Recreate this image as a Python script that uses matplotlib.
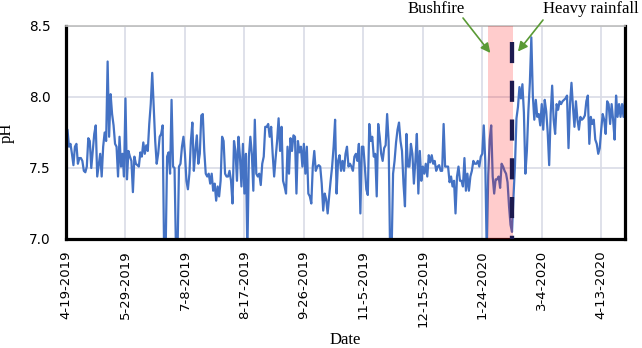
import matplotlib
matplotlib.use('Agg')
import matplotlib.pyplot as plt
import pandas as pd

# daily pH readings (values below 7.0 run off the axis)
ph_apr_jun = [7.54, 7.77, 7.65, 7.67, 7.60, 7.52, 7.65, 7.67, 7.53, 7.57,
              7.57, 7.55, 7.48, 7.47, 7.51, 7.71, 7.69, 7.50, 7.62, 7.74,
              7.80, 7.44, 7.52, 7.60, 7.44, 7.65, 7.75, 7.69, 8.25, 7.72,
              8.02, 7.88, 7.80, 7.67, 7.65, 7.44, 7.72, 7.51, 7.60, 7.44,
              7.99, 7.42, 7.62, 7.58, 7.55, 7.33, 7.58, 7.53, 7.52, 7.51,
              7.61, 7.58, 7.68, 7.60, 7.66, 7.62, 7.81, 7.95, 8.17, 7.93,
              7.69, 7.53]
ph_jun_aug = [7.60, 7.72, 7.74, 7.80, 6.90, 6.90, 7.58, 7.61, 7.46, 7.98,
              7.51, 7.50, 6.90, 6.90, 7.51, 7.53, 7.65, 7.72, 7.60, 7.41,
              7.35, 7.46, 7.69, 7.82, 7.48, 7.62, 7.73, 7.53, 7.60, 7.87,
              7.88, 7.62, 7.46, 7.44, 7.46, 7.39, 7.46, 7.34, 7.39, 7.27,
              7.37, 7.30, 7.41, 7.72, 7.69, 7.46, 7.44, 7.44, 7.48, 7.41,
              7.25, 7.69, 7.62, 7.41, 7.72, 7.58, 7.37, 7.67, 7.32, 7.60,
              6.90, 7.58, 7.72]
ph_aug_oct = [7.60, 7.34, 7.84, 7.46, 7.44, 7.46, 7.38, 7.53, 7.58, 7.79,
              7.79, 7.81, 7.72, 7.79, 7.60, 7.44, 7.57, 7.69, 7.85, 7.62,
              7.79, 7.41, 7.37, 7.32, 7.65, 7.46, 7.71, 7.62, 7.73, 7.72,
              7.32, 7.69, 7.61, 7.65, 7.51, 7.67, 7.46, 7.65, 7.32, 7.30,
              7.25, 7.51, 7.62, 7.48, 7.51, 7.52, 7.51, 7.39, 7.20, 7.32,
              7.28, 7.18, 7.30, 7.41, 7.51, 7.65, 7.84, 7.32, 7.55, 7.59,
              7.48, 7.55]
ph_oct_dec = [7.48, 7.60, 7.65, 7.51, 7.53, 7.51, 7.48, 7.58, 7.60, 7.55,
              7.67, 7.18, 7.65, 7.65, 7.51, 7.35, 7.31, 7.81, 7.69, 7.72,
              7.58, 7.60, 7.30, 7.81, 7.72, 7.60, 7.55, 7.64, 7.66, 7.88,
              7.69, 6.90, 6.90, 7.46, 7.55, 7.68, 7.77, 7.82, 7.69, 7.62,
              7.39, 7.23, 7.74, 7.51, 7.51, 7.67, 7.60, 7.39, 7.55, 7.74,
              7.32, 7.62, 7.41, 7.51, 7.46, 7.53, 7.44, 7.59, 7.54, 7.59,
              7.53, 7.55]
ph_dec_jan = [7.48, 7.51, 7.52, 7.48, 7.48, 7.81, 7.51, 7.51, 7.51, 7.40,
              7.44, 7.37, 7.41, 7.18, 7.44, 7.51, 7.41, 7.41, 7.37, 7.57,
              7.34, 7.46, 7.34, 7.44, 7.48, 7.55, 7.53]
ph_jan_mar = [7.53, 7.55, 7.51, 7.58, 7.60, 7.80, 7.55, 6.90, 7.45, 7.70,
              7.80, 7.44, 7.32, 7.42, 7.42, 7.44, 7.36, 7.53, 7.51, 7.48,
              7.46, 7.40, 7.23, 7.10, 7.05, 7.30, 7.52, 7.85, 7.93, 8.07,
              7.99, 8.09, 7.89, 7.46, 7.62, 7.90, 8.10, 8.42, 8.01, 7.84,
              7.98, 7.86, 7.88, 7.80]
ph_mar_apr = [7.95, 7.77, 7.98, 7.90, 7.75, 7.52, 7.88, 8.08, 7.84, 7.74,
              7.95, 7.91, 7.97, 7.95, 7.97, 7.98, 7.99, 8.01, 7.64, 7.95,
              8.10, 7.93, 7.79, 7.97, 7.84, 7.77, 7.86, 7.84, 7.85, 7.87,
              7.97, 8.01, 7.67, 7.86, 7.81, 7.84, 7.70, 7.67, 7.60, 7.64,
              7.77, 7.88, 7.84, 7.74, 7.97, 7.95, 7.81, 7.95, 7.84, 7.70,
              8.01, 7.86, 7.95, 7.86, 7.95, 7.86, 7.99]

start_date = '2019-04-19'
tick_labels = ['4-19-2019', '5-29-2019', '7-8-2019', '8-17-2019', '9-26-2019',
               '11-5-2019', '12-15-2019', '1-24-2020', '3-4-2020', '4-13-2020']
y_ticks = [7.0, 7.5, 8.0, 8.5]

bushfire_start = '2020-01-28'
bushfire_end = '2020-02-14'
rainfall_date = '2020-02-13'


def main():
    ph = ph_apr_jun + ph_jun_aug + ph_aug_oct + ph_oct_dec + ph_dec_jan + ph_jan_mar + ph_mar_apr
    dates = pd.date_range(start_date, periods=len(ph), freq='D')
    tick_dates = pd.to_datetime(tick_labels, format='%m-%d-%Y')

    fig = plt.figure(figsize=(6.42, 3.48), dpi=100)
    ax = fig.add_axes([66 / 642, 1 - 239 / 348, 559 / 642, 213 / 348])

    ax.plot(dates, ph, color='#4472C4', lw=1.6, zorder=2)

    # bushfire period and heavy rainfall day
    ax.axvspan(pd.Timestamp(bushfire_start), pd.Timestamp(bushfire_end),
               color='red', alpha=0.2, lw=0, zorder=3)
    rain = pd.Timestamp(rainfall_date)
    ax.plot([rain, rain], [8.39, 6.95], color='#1c1a4f', lw=3.1,
            dashes=(4.9, 4.1), solid_capstyle='butt', zorder=4, clip_on=True)

    ax.set_xlim(dates[0], dates[-1])
    ax.set_ylim(7.0, 8.5)
    ax.set_xticks(tick_dates)
    ax.set_xticklabels(tick_labels, rotation=90, fontsize=9.5)
    ax.set_yticks(y_ticks)
    ax.set_yticklabels(['%.1f' % v for v in y_ticks], fontsize=9.8)
    ax.tick_params(axis='both', length=0)
    ax.tick_params(axis='y', pad=11)
    ax.tick_params(axis='x', pad=8)
    ax.grid(True, color='#d9dce6', lw=1.2, zorder=0)
    ax.set_axisbelow(True)

    for side in ['left', 'bottom', 'right']:
        ax.spines[side].set_linewidth(2.3)
        ax.spines[side].set_color('black')
    ax.spines['top'].set_linewidth(1.2)
    ax.spines['top'].set_color('#bdbdbd')

    ax.set_xlabel('Date', family='Liberation Serif', fontsize=12, labelpad=3)
    ax.set_ylabel('pH', family='Liberation Serif', fontsize=12, labelpad=10)

    # annotations
    green = '#5a9a35'
    fig.text(436 / 642, 1 - 9 / 348, 'Bushfire', family='Liberation Serif',
             fontsize=12, ha='center', va='center')
    fig.text(543 / 642, 1 - 9 / 348, 'Heavy rainfall', family='Liberation Serif',
             fontsize=12, ha='left', va='center')
    ax.annotate('', xy=(pd.Timestamp('2020-01-29 10:00'), 8.31), xycoords='data',
                xytext=(463, 348 - 18), textcoords='figure pixels',
                arrowprops=dict(arrowstyle='-|>', color=green, lw=1.2,
                                mutation_scale=14, shrinkA=0, shrinkB=0))
    ax.annotate('', xy=(pd.Timestamp('2020-02-17'), 8.32), xycoords='data',
                xytext=(543, 348 - 20), textcoords='figure pixels',
                arrowprops=dict(arrowstyle='-|>', color=green, lw=1.2,
                                mutation_scale=14, shrinkA=0, shrinkB=0))

    fig.savefig('out.png', dpi=100)


if __name__ == '__main__':
    main()
